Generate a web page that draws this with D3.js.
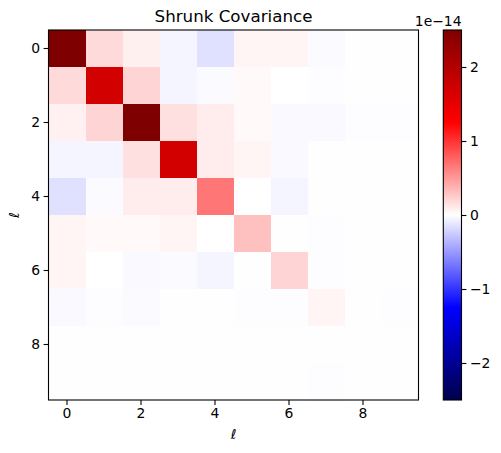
<!DOCTYPE html>
<html>
<head>
<meta charset="utf-8">
<script src="https://cdn.jsdelivr.net/npm/d3@7"></script>
<style>
  body { margin: 0; background: #fff; }
  text { font-family: "DejaVu Sans", sans-serif; fill: #000; }
</style>
</head>
<body>
<div id="chart"></div>
<script>
// values in units of 1e-14 (dark red cells are clipped)
const idx = [0, 1, 2, 3, 4, 5, 6, 7, 8, 9];
const row0 = [2.6, 0.18, 0.075, -0.05, -0.15, 0.05, 0.05, -0.025, 0.003, 0.003];
const row1 = [0.18, 1.675, 0.21, -0.05, -0.025, 0.03, 0.0, -0.01, 0.003, 0.003];
const row2 = [0.07, 0.21, 2.6, 0.15, 0.09, 0.03, -0.03, -0.03, -0.01, -0.01];
const row3 = [-0.05, -0.05, 0.15, 1.68, 0.09, 0.05, -0.03, 0.003, 0.003, 0.003];
const row4 = [-0.15, -0.025, 0.09, 0.09, 0.67, 0.0, -0.05, 0.003, 0.003, 0.003];
const row5 = [0.05, 0.03, 0.03, 0.05, 0.0, 0.31, 0.005, -0.01, 0.003, 0.003];
const row6 = [0.05, 0.0, -0.03, -0.025, -0.05, 0.003, 0.21, -0.01, 0.003, 0.003];
const row7 = [-0.03, -0.01, -0.025, 0.003, 0.003, -0.01, -0.01, 0.05, 0.003, -0.01];
const row8 = [0.003, 0.003, -0.005, 0.003, 0.003, 0.003, 0.003, 0.003, 0.003, 0.003];
const row9 = [0.003, 0.003, -0.005, 0.003, 0.003, 0.003, 0.003, -0.008, 0.003, 0.003];
const cbTicks = [-2, -1, 0, 1, 2];
const vmax = 2.5;

const rows = [row0, row1, row2, row3, row4, row5, row6, row7, row8, row9];
const cells = [];
rows.forEach((r, i) => r.forEach((v, j) => cells.push({row: i, col: j, v: v})));

const W = 501, H = 453;
const AX = {left: 48.5, top: 30, size: 370};
const CB = {left: 443.3, width: 18.2};

const svg = d3.select('#chart').append('svg')
  .attr('width', W).attr('height', H);

// seismic colormap
const color = d3.scaleLinear()
  .domain([-vmax, -vmax / 2, 0, vmax / 2, vmax])
  .range(['#00004c', '#0000ff', '#ffffff', '#ff0000', '#7f0000'])
  .clamp(true);

const x = d3.scaleBand().domain(idx).range([AX.left, AX.left + AX.size]);
const y = d3.scaleBand().domain(idx).range([AX.top, AX.top + AX.size]);

svg.append('g').selectAll('rect')
  .data(cells)
  .enter().append('rect')
  .attr('x', d => x(d.col))
  .attr('y', d => y(d.row))
  .attr('width', x.bandwidth() + 0.5)
  .attr('height', y.bandwidth() + 0.5)
  .attr('fill', d => color(d.v))
  .attr('shape-rendering', 'crispEdges');

// frame
svg.append('rect')
  .attr('x', AX.left).attr('y', AX.top)
  .attr('width', AX.size).attr('height', AX.size)
  .attr('fill', 'none').attr('stroke', '#000').attr('stroke-width', 1.1);

// axes
const tickVals = [0, 2, 4, 6, 8];
const xAxis = svg.append('g')
  .attr('transform', `translate(0, ${AX.top + AX.size})`)
  .call(d3.axisBottom(x).tickValues(tickVals).tickSize(4.9).tickPadding(3.5));
const yAxis = svg.append('g')
  .attr('transform', `translate(${AX.left}, 0)`)
  .call(d3.axisLeft(y).tickValues(tickVals).tickSize(4.9).tickPadding(3.5));
[xAxis, yAxis].forEach(a => {
  a.select('.domain').remove();
  a.selectAll('.tick line').attr('stroke', '#000').attr('stroke-width', 1.1);
  a.selectAll('.tick text').attr('font-size', '13.9px').attr('font-family', 'DejaVu Sans').attr('fill', '#000');
});

// colorbar
const cbScale = d3.scaleLinear().domain([-vmax, vmax]).range([AX.top + AX.size, AX.top]);
const grad = svg.append('defs').append('linearGradient')
  .attr('id', 'cbgrad').attr('x1', 0).attr('y1', 1).attr('x2', 0).attr('y2', 0);
d3.range(0, 1.0001, 0.05).forEach(t => {
  grad.append('stop').attr('offset', t).attr('stop-color', color(-vmax + t * 2 * vmax));
});
svg.append('rect')
  .attr('x', CB.left).attr('y', AX.top)
  .attr('width', CB.width).attr('height', AX.size)
  .attr('fill', 'url(#cbgrad)')
  .attr('stroke', '#000').attr('stroke-width', 1.1);

const cbAxis = svg.append('g')
  .attr('transform', `translate(${CB.left + CB.width}, 0)`)
  .call(d3.axisRight(cbScale).tickValues(cbTicks).tickSize(4.9).tickPadding(3.5)
    .tickFormat(d => d < 0 ? '\u2212' + Math.abs(d) : String(d)));
cbAxis.select('.domain').remove();
cbAxis.selectAll('.tick line').attr('stroke', '#000').attr('stroke-width', 1.1);
cbAxis.selectAll('.tick text').attr('font-size', '13.9px').attr('font-family', 'DejaVu Sans').attr('fill', '#000');

svg.append('text')
  .attr('x', CB.left + CB.width).attr('y', 25.5)
  .attr('text-anchor', 'end').attr('font-size', '13.9px')
  .text('1e\u221214');

// labels
svg.append('text')
  .attr('x', AX.left + AX.size / 2).attr('y', 21.7)
  .attr('text-anchor', 'middle').attr('font-size', '16.7px')
  .text('Shrunk Covariance');

svg.append('text')
  .attr('x', AX.left + AX.size / 2).attr('y', 439)
  .attr('text-anchor', 'middle').attr('font-size', '13.9px')
  .attr('font-style', 'italic')
  .text('\u2113');

svg.append('text')
  .attr('transform', `translate(19, ${AX.top + AX.size / 2}) rotate(-90)`)
  .attr('text-anchor', 'middle').attr('font-size', '13.9px')
  .attr('font-style', 'italic')
  .text('\u2113');
</script>
</body>
</html>
